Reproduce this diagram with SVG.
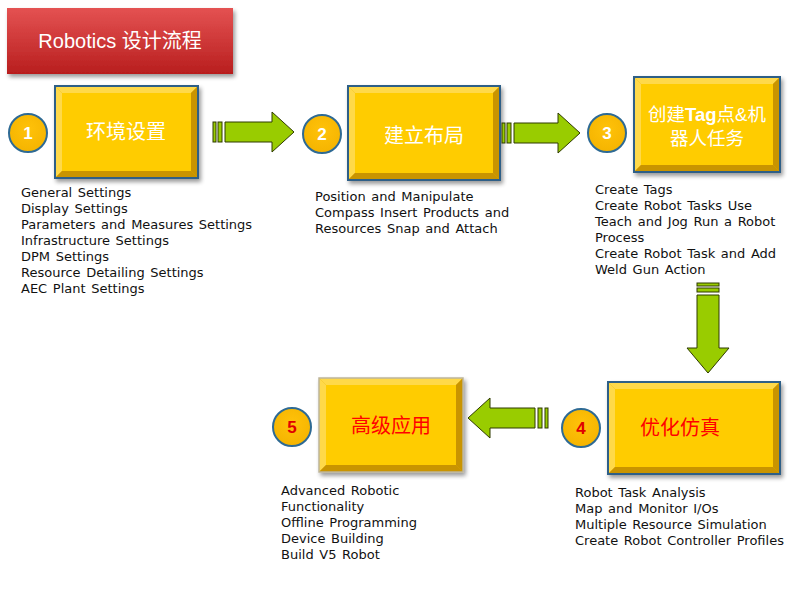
<svg xmlns="http://www.w3.org/2000/svg" width="800" height="600" viewBox="0 0 800 600">
<defs>
<linearGradient id="red" x1="0" y1="0" x2="0" y2="1">
<stop offset="0" stop-color="#E45252"/>
<stop offset="1" stop-color="#B81E1E"/>
</linearGradient>
<radialGradient id="circ" cx="0.5" cy="0.4" r="0.6">
<stop offset="0" stop-color="#FFC20A"/>
<stop offset="1" stop-color="#F5B400"/>
</radialGradient>
<filter id="sh" x="-10%" y="-10%" width="125%" height="130%">
<feGaussianBlur in="SourceAlpha" stdDeviation="2"/>
<feOffset dx="2" dy="3"/>
<feComponentTransfer><feFuncA type="linear" slope="0.4"/></feComponentTransfer>
<feMerge><feMergeNode/><feMergeNode in="SourceGraphic"/></feMerge>
</filter>
</defs>
<style>
.list{font-family:"DejaVu Sans",Verdana,sans-serif;font-size:13px;word-spacing:1.5px;fill:#111}
.num{font-family:"Liberation Sans",Arial,sans-serif;font-size:17px;font-weight:bold;text-anchor:middle}
.ntext{font-family:"Liberation Sans","Noto Sans CJK SC",sans-serif;font-size:20px;font-weight:normal;text-anchor:middle}
.circle{fill:url(#circ);stroke:#2E6A94;stroke-width:2}
.outer{fill:#E5AE00}
.top{fill:#FFD94A}
.bot{fill:#C99400}
.inner{fill:#FFCC00}
.frame{fill:none;stroke:#2E5F87;stroke-width:2}
.arrow{fill:#99CC00;stroke:#2F3A00;stroke-width:1}
</style>

<g id="title">
<rect x="7" y="8" width="226" height="66" fill="url(#red)" filter="url(#sh)"/>
<text x="120" y="48" text-anchor="middle" fill="#FFFFFF" style="font-family:'Liberation Sans','Noto Sans CJK SC',sans-serif;font-size:20px">Robotics 设计流程</text>
</g>

<g id="node1">
<circle class="circle" cx="28" cy="133" r="19"/>
<text class="num" x="28" y="139" fill="#FFFFFF">1</text>
<g filter="url(#sh)">
<rect class="outer" x="55" y="86" width="143" height="92"/>
<polygon class="top" points="55,86 198,86 191,93 62,93"/>
<polygon class="top" points="55,86 62,93 62,171 55,178"/>
<polygon class="bot" points="198,86 198,178 191,171 191,93"/>
<polygon class="bot" points="55,178 198,178 191,171 62,171"/>
<rect class="inner" x="62" y="93" width="129" height="78"/>
<rect class="frame" x="55" y="86" width="143" height="92"/>
</g>
<text class="ntext" x="126" y="139" fill="#FFFFFF">环境设置</text>
</g>

<g id="node2">
<circle class="circle" cx="322" cy="134" r="19"/>
<text class="num" x="322" y="140" fill="#FFFFFF">2</text>
<g filter="url(#sh)">
<rect class="outer" x="348" y="86" width="152" height="94"/>
<polygon class="top" points="348,86 500,86 493,93 355,93"/>
<polygon class="top" points="348,86 355,93 355,173 348,180"/>
<polygon class="bot" points="500,86 500,180 493,173 493,93"/>
<polygon class="bot" points="348,180 500,180 493,173 355,173"/>
<rect class="inner" x="355" y="93" width="138" height="80"/>
<rect class="frame" x="348" y="86" width="152" height="94"/>
</g>
<text class="ntext" x="424" y="143" fill="#FFFFFF">建立布局</text>
</g>

<g id="node3">
<circle class="circle" cx="607" cy="133" r="19"/>
<text class="num" x="607" y="139" fill="#FFFFFF">3</text>
<g filter="url(#sh)">
<rect class="outer" x="634" y="77" width="146" height="95"/>
<polygon class="top" points="634,77 780,77 773,84 641,84"/>
<polygon class="top" points="634,77 641,84 641,165 634,172"/>
<polygon class="bot" points="780,77 780,172 773,165 773,84"/>
<polygon class="bot" points="634,172 780,172 773,165 641,165"/>
<rect class="inner" x="641" y="84" width="132" height="81"/>
<rect class="frame" x="634" y="77" width="146" height="95"/>
</g>
<text class="ntext" x="707" y="121" fill="#FFFFFF" style="font-size:18.5px">创建<tspan font-weight="bold">Tag</tspan>点&amp;机</text>
<text class="ntext" x="707" y="145" fill="#FFFFFF" style="font-size:18.5px">器人任务</text>
</g>

<g id="node4">
<circle class="circle" cx="581" cy="428" r="19"/>
<text class="num" x="581" y="434" fill="#E00000">4</text>
<g filter="url(#sh)">
<rect class="outer" x="608" y="382" width="172" height="92"/>
<polygon class="top" points="608,382 780,382 773,389 615,389"/>
<polygon class="top" points="608,382 615,389 615,467 608,474"/>
<polygon class="bot" points="780,382 780,474 773,467 773,389"/>
<polygon class="bot" points="608,474 780,474 773,467 615,467"/>
<rect class="inner" x="615" y="389" width="158" height="78"/>
<rect class="frame" x="608" y="382" width="172" height="92"/>
</g>
<text class="ntext" x="680" y="435" fill="#FF0000">优化仿真</text>
</g>

<g id="node5">
<circle class="circle" cx="292" cy="427" r="19"/>
<text class="num" x="292" y="433" fill="#E00000">5</text>
<g filter="url(#sh)">
<rect class="outer" x="319" y="378" width="144" height="94"/>
<polygon class="top" points="319,378 463,378 456,385 326,385"/>
<polygon class="top" points="319,378 326,385 326,465 319,472"/>
<polygon class="bot" points="463,378 463,472 456,465 456,385"/>
<polygon class="bot" points="319,472 463,472 456,465 326,465"/>
<rect class="inner" x="326" y="385" width="130" height="80"/>
<rect x="319" y="378" width="144" height="94" fill="none" stroke="#BDB59A" stroke-width="1.5"/>
</g>
<text class="ntext" x="391" y="433" fill="#FF0000">高级应用</text>
</g>

<g id="connectors">
<g id="arrow1">
<rect class="arrow" x="213" y="122" width="3" height="20"/>
<rect class="arrow" x="218" y="122" width="4" height="20"/>
<polygon class="arrow" points="225,122 272,122 272,112 294,132 272,152 272,142 225,142"/>
</g>
<g id="arrow2">
<rect class="arrow" x="502" y="123" width="3" height="20"/>
<rect class="arrow" x="507" y="123" width="4" height="20"/>
<polygon class="arrow" points="514,123 558,123 558,113 580,133 558,153 558,143 514,143"/>
</g>
<g id="arrow3">
<rect class="arrow" x="697" y="283" width="22" height="3"/>
<rect class="arrow" x="697" y="288" width="22" height="4"/>
<polygon class="arrow" points="697,295 719,295 719,348 729,348 708,373 687,348 697,348"/>
</g>
<g id="arrow4">
<rect class="arrow" x="545" y="408" width="3" height="20"/>
<rect class="arrow" x="538" y="408" width="4" height="20"/>
<polygon class="arrow" points="535,408 490,408 490,398 468,418 490,438 490,428 535,428"/>
</g>
</g>

<g id="lists">
<text class="list" x="21" y="197">General Settings</text>
<text class="list" x="21" y="213">Display Settings</text>
<text class="list" x="21" y="229">Parameters and Measures Settings</text>
<text class="list" x="21" y="245">Infrastructure Settings</text>
<text class="list" x="21" y="261">DPM Settings</text>
<text class="list" x="21" y="277">Resource Detailing Settings</text>
<text class="list" x="21" y="293">AEC Plant Settings</text>

<text class="list" x="315" y="201">Position and Manipulate</text>
<text class="list" x="315" y="217">Compass Insert Products and</text>
<text class="list" x="315" y="233">Resources Snap and Attach</text>

<text class="list" x="595" y="194">Create Tags</text>
<text class="list" x="595" y="210">Create Robot Tasks Use</text>
<text class="list" x="595" y="226">Teach and Jog Run a Robot</text>
<text class="list" x="595" y="242">Process</text>
<text class="list" x="595" y="258">Create Robot Task and Add</text>
<text class="list" x="595" y="274">Weld Gun Action</text>

<text class="list" x="575" y="497">Robot Task Analysis</text>
<text class="list" x="575" y="513">Map and Monitor I/Os</text>
<text class="list" x="575" y="529">Multiple Resource Simulation</text>
<text class="list" x="575" y="545">Create Robot Controller Profiles</text>

<text class="list" x="281" y="495">Advanced Robotic</text>
<text class="list" x="281" y="511">Functionality</text>
<text class="list" x="281" y="527">Offline Programming</text>
<text class="list" x="281" y="543">Device Building</text>
<text class="list" x="281" y="559">Build V5 Robot</text>
</g>
</svg>
